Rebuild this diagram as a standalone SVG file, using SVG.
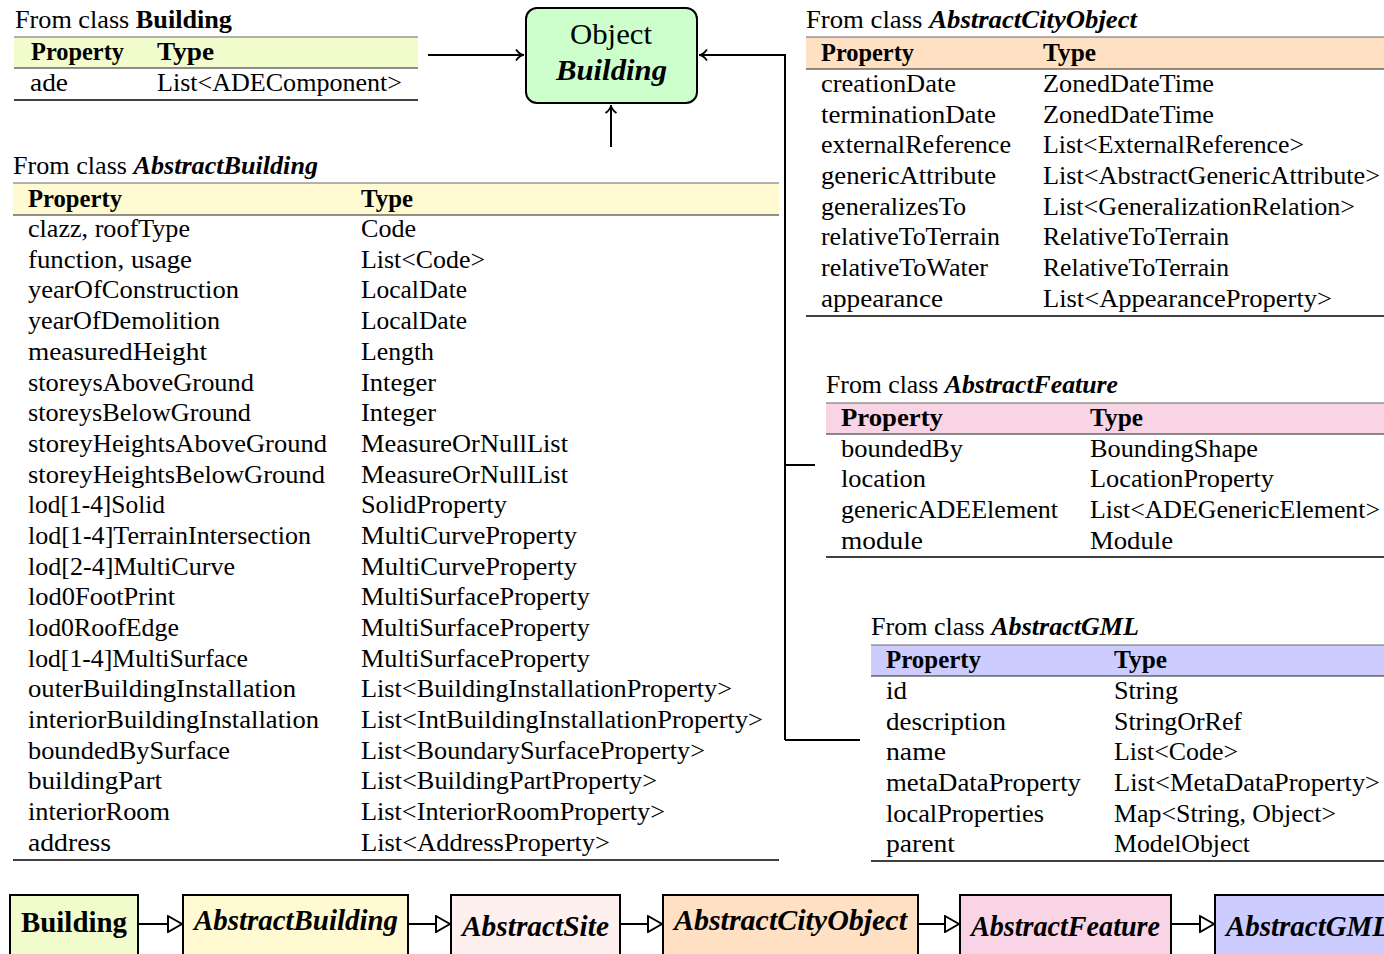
<svg xmlns="http://www.w3.org/2000/svg" width="1384" height="954" viewBox="0 0 1384 954">
<style>
text{font-family:"Liberation Serif","Times New Roman",serif;font-size:26px;fill:#000}
.h{font-weight:bold}
.bi{font-weight:bold;font-style:italic}
.it{font-style:italic}
.big{font-size:30px}
.top{stroke:#666;stroke-width:1}
.mid{stroke:#222;stroke-width:1.2}
.bot{stroke:#000;stroke-width:1.6}
.con{stroke:#000;stroke-width:2;fill:none}
.box{stroke:#000;stroke-width:2}
</style>
<defs>
<marker id="chev" viewBox="0 0 10 12" refX="9" refY="6" markerWidth="10" markerHeight="12" markerUnits="userSpaceOnUse" orient="auto">
<path d="M1,0.5 Q5,6 9,6 Q5,6 1,11.5" fill="none" stroke="#000" stroke-width="1.8"/>
</marker>
<marker id="tri" viewBox="0 0 16 18" refX="15" refY="9" markerWidth="16" markerHeight="18" markerUnits="userSpaceOnUse" orient="auto">
<path d="M1,1 L15,9 L1,17 Z" fill="#fff" stroke="#000" stroke-width="2"/>
</marker>
</defs>

<g id="table-building">
<text x="15" y="28" textLength="217" lengthAdjust="spacingAndGlyphs">From class <tspan class="h">Building</tspan></text>
<rect x="14" y="37" width="404" height="31" fill="#f2fccc"/>
<line class="top" x1="14" y1="37" x2="418" y2="37"/>
<line class="mid" x1="14" y1="68" x2="418" y2="68"/>
<text class="h" x="31" y="60" textLength="93" lengthAdjust="spacingAndGlyphs">Property</text>
<text class="h" x="157" y="60" textLength="57" lengthAdjust="spacingAndGlyphs">Type</text>
<text x="30" y="91" textLength="38" lengthAdjust="spacingAndGlyphs">ade</text>
<text x="157" y="91" textLength="245" lengthAdjust="spacingAndGlyphs">List&lt;ADEComponent&gt;</text>
<line class="bot" x1="14" y1="100" x2="418" y2="100"/>
</g>

<g id="node-object-building">
<rect x="526" y="8" width="171" height="95" rx="11" fill="#ccffcc" stroke="#000" stroke-width="2"/>
<text class="big" x="611" y="44" text-anchor="middle" textLength="82" lengthAdjust="spacingAndGlyphs">Object</text>
<text class="big bi" x="611.5" y="80" text-anchor="middle" textLength="111" lengthAdjust="spacingAndGlyphs">Building</text>
</g>

<g id="table-abstractcityobject">
<text x="806" y="28" textLength="331" lengthAdjust="spacingAndGlyphs">From class <tspan class="bi">AbstractCityObject</tspan></text>
<rect x="806" y="37" width="578" height="32" fill="#ffe0c2"/>
<line class="top" x1="806" y1="37" x2="1384" y2="37"/>
<line class="mid" x1="806" y1="69" x2="1384" y2="69"/>
<text class="h" x="821" y="61" textLength="93" lengthAdjust="spacingAndGlyphs">Property</text>
<text class="h" x="1043" y="61" textLength="53" lengthAdjust="spacingAndGlyphs">Type</text>
<text x="821" y="92" textLength="135" lengthAdjust="spacingAndGlyphs">creationDate</text>
<text x="1043" y="92" textLength="171" lengthAdjust="spacingAndGlyphs">ZonedDateTime</text>
<text x="821" y="123" textLength="175" lengthAdjust="spacingAndGlyphs">terminationDate</text>
<text x="1043" y="123" textLength="171" lengthAdjust="spacingAndGlyphs">ZonedDateTime</text>
<text x="821" y="153" textLength="190" lengthAdjust="spacingAndGlyphs">externalReference</text>
<text x="1043" y="153" textLength="261" lengthAdjust="spacingAndGlyphs">List&lt;ExternalReference&gt;</text>
<text x="821" y="184" textLength="175" lengthAdjust="spacingAndGlyphs">genericAttribute</text>
<text x="1043" y="184" textLength="337" lengthAdjust="spacingAndGlyphs">List&lt;AbstractGenericAttribute&gt;</text>
<text x="821" y="215" textLength="145" lengthAdjust="spacingAndGlyphs">generalizesTo</text>
<text x="1043" y="215" textLength="312" lengthAdjust="spacingAndGlyphs">List&lt;GeneralizationRelation&gt;</text>
<text x="821" y="245" textLength="179" lengthAdjust="spacingAndGlyphs">relativeToTerrain</text>
<text x="1043" y="245" textLength="186" lengthAdjust="spacingAndGlyphs">RelativeToTerrain</text>
<text x="821" y="276" textLength="167" lengthAdjust="spacingAndGlyphs">relativeToWater</text>
<text x="1043" y="276" textLength="186" lengthAdjust="spacingAndGlyphs">RelativeToTerrain</text>
<text x="821" y="307" textLength="122" lengthAdjust="spacingAndGlyphs">appearance</text>
<text x="1043" y="307" textLength="289" lengthAdjust="spacingAndGlyphs">List&lt;AppearanceProperty&gt;</text>
<line class="bot" x1="806" y1="316" x2="1384" y2="316"/>
</g>

<g id="table-abstractbuilding">
<text x="13" y="174" textLength="305" lengthAdjust="spacingAndGlyphs">From class <tspan class="bi">AbstractBuilding</tspan></text>
<rect x="13" y="183" width="766" height="32" fill="#fffad2"/>
<line class="top" x1="13" y1="183" x2="779" y2="183"/>
<line class="mid" x1="13" y1="215" x2="779" y2="215"/>
<text class="h" x="28" y="207" textLength="94" lengthAdjust="spacingAndGlyphs">Property</text>
<text class="h" x="361" y="207" textLength="52" lengthAdjust="spacingAndGlyphs">Type</text>
<text x="28" y="237" textLength="162" lengthAdjust="spacingAndGlyphs">clazz, roofType</text>
<text x="361" y="237" textLength="55" lengthAdjust="spacingAndGlyphs">Code</text>
<text x="28" y="268" textLength="164" lengthAdjust="spacingAndGlyphs">function, usage</text>
<text x="361" y="268" textLength="124" lengthAdjust="spacingAndGlyphs">List&lt;Code&gt;</text>
<text x="28" y="298" textLength="211" lengthAdjust="spacingAndGlyphs">yearOfConstruction</text>
<text x="361" y="298" textLength="106" lengthAdjust="spacingAndGlyphs">LocalDate</text>
<text x="28" y="329" textLength="192" lengthAdjust="spacingAndGlyphs">yearOfDemolition</text>
<text x="361" y="329" textLength="106" lengthAdjust="spacingAndGlyphs">LocalDate</text>
<text x="28" y="360" textLength="179" lengthAdjust="spacingAndGlyphs">measuredHeight</text>
<text x="361" y="360" textLength="73" lengthAdjust="spacingAndGlyphs">Length</text>
<text x="28" y="391" textLength="226" lengthAdjust="spacingAndGlyphs">storeysAboveGround</text>
<text x="361" y="391" textLength="75" lengthAdjust="spacingAndGlyphs">Integer</text>
<text x="28" y="421" textLength="223" lengthAdjust="spacingAndGlyphs">storeysBelowGround</text>
<text x="361" y="421" textLength="75" lengthAdjust="spacingAndGlyphs">Integer</text>
<text x="28" y="452" textLength="299" lengthAdjust="spacingAndGlyphs">storeyHeightsAboveGround</text>
<text x="361" y="452" textLength="207" lengthAdjust="spacingAndGlyphs">MeasureOrNullList</text>
<text x="28" y="483" textLength="297" lengthAdjust="spacingAndGlyphs">storeyHeightsBelowGround</text>
<text x="361" y="483" textLength="207" lengthAdjust="spacingAndGlyphs">MeasureOrNullList</text>
<text x="28" y="513" textLength="137" lengthAdjust="spacingAndGlyphs">lod[1-4]Solid</text>
<text x="361" y="513" textLength="146" lengthAdjust="spacingAndGlyphs">SolidProperty</text>
<text x="28" y="544" textLength="283" lengthAdjust="spacingAndGlyphs">lod[1-4]TerrainIntersection</text>
<text x="361" y="544" textLength="216" lengthAdjust="spacingAndGlyphs">MultiCurveProperty</text>
<text x="28" y="575" textLength="207" lengthAdjust="spacingAndGlyphs">lod[2-4]MultiCurve</text>
<text x="361" y="575" textLength="216" lengthAdjust="spacingAndGlyphs">MultiCurveProperty</text>
<text x="28" y="605" textLength="147" lengthAdjust="spacingAndGlyphs">lod0FootPrint</text>
<text x="361" y="605" textLength="229" lengthAdjust="spacingAndGlyphs">MultiSurfaceProperty</text>
<text x="28" y="636" textLength="151" lengthAdjust="spacingAndGlyphs">lod0RoofEdge</text>
<text x="361" y="636" textLength="229" lengthAdjust="spacingAndGlyphs">MultiSurfaceProperty</text>
<text x="28" y="667" textLength="220" lengthAdjust="spacingAndGlyphs">lod[1-4]MultiSurface</text>
<text x="361" y="667" textLength="229" lengthAdjust="spacingAndGlyphs">MultiSurfaceProperty</text>
<text x="28" y="697" textLength="268" lengthAdjust="spacingAndGlyphs">outerBuildingInstallation</text>
<text x="361" y="697" textLength="371" lengthAdjust="spacingAndGlyphs">List&lt;BuildingInstallationProperty&gt;</text>
<text x="28" y="728" textLength="291" lengthAdjust="spacingAndGlyphs">interiorBuildingInstallation</text>
<text x="361" y="728" textLength="402" lengthAdjust="spacingAndGlyphs">List&lt;IntBuildingInstallationProperty&gt;</text>
<text x="28" y="759" textLength="202" lengthAdjust="spacingAndGlyphs">boundedBySurface</text>
<text x="361" y="759" textLength="344" lengthAdjust="spacingAndGlyphs">List&lt;BoundarySurfaceProperty&gt;</text>
<text x="28" y="789" textLength="134" lengthAdjust="spacingAndGlyphs">buildingPart</text>
<text x="361" y="789" textLength="296" lengthAdjust="spacingAndGlyphs">List&lt;BuildingPartProperty&gt;</text>
<text x="28" y="820" textLength="142" lengthAdjust="spacingAndGlyphs">interiorRoom</text>
<text x="361" y="820" textLength="304" lengthAdjust="spacingAndGlyphs">List&lt;InteriorRoomProperty&gt;</text>
<text x="28" y="851" textLength="83" lengthAdjust="spacingAndGlyphs">address</text>
<text x="361" y="851" textLength="249" lengthAdjust="spacingAndGlyphs">List&lt;AddressProperty&gt;</text>
<line class="bot" x1="13" y1="860" x2="779" y2="860"/>
</g>

<g id="table-abstractfeature">
<text x="826" y="393" textLength="292" lengthAdjust="spacingAndGlyphs">From class <tspan class="bi">AbstractFeature</tspan></text>
<rect x="826" y="403" width="558" height="31" fill="#f8d4e4"/>
<line class="top" x1="826" y1="403" x2="1384" y2="403"/>
<line class="mid" x1="826" y1="434" x2="1384" y2="434"/>
<text class="h" x="841" y="426" textLength="102" lengthAdjust="spacingAndGlyphs">Property</text>
<text class="h" x="1090" y="426" textLength="53" lengthAdjust="spacingAndGlyphs">Type</text>
<text x="841" y="457" textLength="122" lengthAdjust="spacingAndGlyphs">boundedBy</text>
<text x="1090" y="457" textLength="168" lengthAdjust="spacingAndGlyphs">BoundingShape</text>
<text x="841" y="487" textLength="85" lengthAdjust="spacingAndGlyphs">location</text>
<text x="1090" y="487" textLength="184" lengthAdjust="spacingAndGlyphs">LocationProperty</text>
<text x="841" y="518" textLength="217" lengthAdjust="spacingAndGlyphs">genericADEElement</text>
<text x="1090" y="518" textLength="290" lengthAdjust="spacingAndGlyphs">List&lt;ADEGenericElement&gt;</text>
<text x="841" y="549" textLength="82" lengthAdjust="spacingAndGlyphs">module</text>
<text x="1090" y="549" textLength="83" lengthAdjust="spacingAndGlyphs">Module</text>
<line class="bot" x1="826" y1="557" x2="1384" y2="557"/>
</g>

<g id="table-abstractgml">
<text x="871" y="635" textLength="268" lengthAdjust="spacingAndGlyphs">From class <tspan class="bi">AbstractGML</tspan></text>
<rect x="871" y="645" width="513" height="31" fill="#ccccff"/>
<line class="top" x1="871" y1="645" x2="1384" y2="645"/>
<line class="mid" x1="871" y1="676" x2="1384" y2="676"/>
<text class="h" x="886" y="668" textLength="95" lengthAdjust="spacingAndGlyphs">Property</text>
<text class="h" x="1114" y="668" textLength="53" lengthAdjust="spacingAndGlyphs">Type</text>
<text x="886" y="699" textLength="21" lengthAdjust="spacingAndGlyphs">id</text>
<text x="1114" y="699" textLength="64" lengthAdjust="spacingAndGlyphs">String</text>
<text x="886" y="730" textLength="120" lengthAdjust="spacingAndGlyphs">description</text>
<text x="1114" y="730" textLength="128" lengthAdjust="spacingAndGlyphs">StringOrRef</text>
<text x="886" y="760" textLength="60" lengthAdjust="spacingAndGlyphs">name</text>
<text x="1114" y="760" textLength="124" lengthAdjust="spacingAndGlyphs">List&lt;Code&gt;</text>
<text x="886" y="791" textLength="195" lengthAdjust="spacingAndGlyphs">metaDataProperty</text>
<text x="1114" y="791" textLength="266" lengthAdjust="spacingAndGlyphs">List&lt;MetaDataProperty&gt;</text>
<text x="886" y="822" textLength="158" lengthAdjust="spacingAndGlyphs">localProperties</text>
<text x="1114" y="822" textLength="222" lengthAdjust="spacingAndGlyphs">Map&lt;String, Object&gt;</text>
<text x="886" y="852" textLength="69" lengthAdjust="spacingAndGlyphs">parent</text>
<text x="1114" y="852" textLength="136" lengthAdjust="spacingAndGlyphs">ModelObject</text>
<line class="bot" x1="871" y1="861" x2="1384" y2="861"/>
</g>

<g id="chain-building">
<rect class="box" x="10" y="895" width="128" height="80" fill="#f0fccc"/>
<text class="big h" x="74" y="932" text-anchor="middle" textLength="106" lengthAdjust="spacingAndGlyphs">Building</text>
</g>
<g id="chain-abstractbuilding">
<rect class="box" x="183" y="895" width="225" height="80" fill="#fffad2"/>
<text class="big bi" x="296" y="930" text-anchor="middle" textLength="204" lengthAdjust="spacingAndGlyphs">AbstractBuilding</text>
</g>
<g id="chain-abstractsite">
<rect class="box" x="451" y="895" width="169" height="80" fill="#fff0f0"/>
<text class="big bi" x="535.5" y="936" text-anchor="middle" textLength="147" lengthAdjust="spacingAndGlyphs">AbstractSite</text>
</g>
<g id="chain-abstractcityobject">
<rect class="box" x="663" y="895" width="255" height="80" fill="#ffe0c2"/>
<text class="big bi" x="790.5" y="930" text-anchor="middle" textLength="233" lengthAdjust="spacingAndGlyphs">AbstractCityObject</text>
</g>
<g id="chain-abstractfeature">
<rect class="box" x="960" y="895" width="211" height="80" fill="#f8d4e4"/>
<text class="big bi" x="1065.5" y="936" text-anchor="middle" textLength="189" lengthAdjust="spacingAndGlyphs">AbstractFeature</text>
</g>
<g id="chain-abstractgml">
<rect class="box" x="1215" y="895" width="200" height="80" fill="#ccccff"/>
<text class="big bi" x="1226" y="936" textLength="164" lengthAdjust="spacingAndGlyphs">AbstractGML</text>
</g>

<g id="connectors">
<line class="con" x1="428" y1="55" x2="524" y2="55" marker-end="url(#chev)"/>
<line class="con" x1="611" y1="147" x2="611" y2="105" marker-end="url(#chev)"/>
<polyline class="con" points="785,740 785,55 699,55" marker-end="url(#chev)"/>
<line class="con" x1="785" y1="465" x2="815" y2="465"/>
<line class="con" x1="785" y1="740" x2="860" y2="740"/>
<line class="con" x1="138" y1="924" x2="182" y2="924" marker-end="url(#tri)"/>
<line class="con" x1="408" y1="924" x2="450" y2="924" marker-end="url(#tri)"/>
<line class="con" x1="620" y1="924" x2="662" y2="924" marker-end="url(#tri)"/>
<line class="con" x1="918" y1="924" x2="959" y2="924" marker-end="url(#tri)"/>
<line class="con" x1="1171" y1="924" x2="1214" y2="924" marker-end="url(#tri)"/>
</g>
</svg>
